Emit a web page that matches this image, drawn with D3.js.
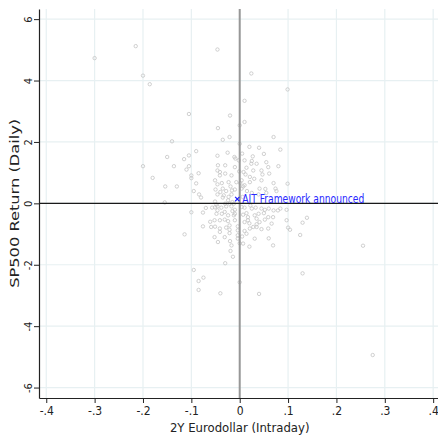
<!DOCTYPE html>
<html>
<head>
<meta charset="utf-8">
<script src="https://cdn.jsdelivr.net/npm/d3@7"></script>
<style>
  body { margin: 0; background: #fff; }
  svg { display: block; }
</style>
</head>
<body>
<div id="chart"></div>
<script>
// 2Y Eurodollar intraday change vs SP500 daily return
const eurodollar = [
  -0.300, -0.215, -0.200, -0.186, -0.105, -0.046, 0.024, 0.099, 0.010, -0.020,
  0.010, 0.000, -0.045, -0.140, -0.035, -0.021, 0.070, 0.000, -0.150, -0.200,
  -0.180, -0.136, -0.115, -0.105, -0.090, -0.105, -0.110, -0.100, -0.100, -0.085,
  -0.090, -0.154, -0.130, -0.095, -0.084, -0.080, -0.155, -0.100, -0.076, -0.070,
  -0.051, -0.046, -0.046, -0.051, -0.046, -0.046, -0.051, -0.046, -0.046, 0.020,
  0.040, 0.050, 0.084, 0.005, 0.027, 0.010, 0.059, 0.080, 0.035, 0.045,
  0.014, 0.021, 0.030, 0.045, 0.070, 0.099, 0.053, 0.074, -0.030, -0.009,
  -0.002, -0.030, -0.017, 0.008, 0.001, 0.010, -0.023, -0.037, -0.016, -0.028,
  0.015, 0.025, 0.039, -0.040, -0.033, -0.023, 0.006, -0.030, -0.012, 0.004,
  0.022, 0.025, 0.060, 0.070, 0.084, 0.039, 0.050, 0.139, -0.012, -0.037,
  -0.025, -0.011, 0.024, 0.055, -0.010, 0.028, 0.061, -0.041, -0.041, -0.001,
  0.012, -0.007, 0.004, 0.021, -0.050, -0.035, -0.019, -0.010, 0.007, 0.041,
  0.055, 0.076, -0.017, -0.024, -0.057, -0.038, -0.028, -0.017, -0.010, 0.010,
  0.033, 0.052, 0.079, 0.097, -0.048, -0.024, -0.010, 0.007, 0.017, 0.031,
  0.059, -0.052, -0.031, -0.010, 0.010, 0.041, 0.052, 0.066, 0.100, 0.104,
  -0.076, -0.059, -0.028, -0.021, -0.004, 0.021, 0.035, 0.059, -0.021, -0.041,
  -0.004, 0.014, -0.114, -0.052, -0.031, -0.004, 0.031, 0.069, -0.017, 0.007,
  -0.045, -0.030, 0.000, -0.040, 0.040, 0.130, 0.255, 0.275, 0.125, 0.130,
  0.060, 0.020, 0.045, 0.035, 0.020, 0.010, 0.005, 0.000, -0.019, -0.014,
  -0.020, -0.024, -0.061, -0.051, -0.095, -0.085, -0.075, -0.085, -0.045, 0.025,
  -0.035, -0.048, -0.021, -0.015, -0.031, -0.015, -0.041, -0.041, -0.021, -0.004,
  0.047, 0.004, 0.014, 0.045, 0.069, 0.035, 0.017, 0.028, 0.097
];
const sp500 = [
  4.73, 5.12, 4.16, 3.88, 2.91, 5.01, 4.23, 3.71, 3.34, 2.86,
  2.65, 2.54, 2.45, 2.02, 2.07, 2.16, 2.16, 1.94, 1.51, 1.21,
  0.83, 1.21, 1.44, 1.56, 1.70, 1.21, 1.10, 0.91, 0.82, 0.98,
  0.65, 0.55, 0.55, 0.40, 0.29, 0.19, 0.03, -0.29, -0.30, -0.15,
  -0.13, 1.55, 1.07, 0.75, 0.62, 0.29, 0.06, -0.10, -0.23, 1.84,
  1.81, 1.61, 1.75, 1.62, 1.53, 1.40, 1.18, 1.21, 1.29, 1.07,
  1.16, 0.86, 0.80, 0.75, 0.66, 0.64, 0.47, 0.48, 1.24, 1.46,
  1.40, 0.97, 0.91, 1.02, 0.66, 0.59, 0.69, 0.66, 0.42, 0.40,
  0.40, 0.34, 0.29, 0.37, 0.26, 0.21, 0.21, -0.01, -0.01, -0.12,
  -0.07, -0.17, -0.17, -0.23, -0.17, -0.34, -0.32, -0.47, -0.39, -0.34,
  1.65, 1.51, 1.29, 1.34, 1.18, 1.07, 0.97, 1.02, 0.91, 1.04,
  0.94, 0.69, 0.75, 0.69, 0.45, 0.48, 0.55, 0.45, 0.55, 0.48,
  0.34, 0.40, 0.29, 0.10, -0.14, -0.14, -0.10, -0.10, -0.21, -0.14,
  -0.14, -0.21, -0.23, -0.21, -0.34, -0.39, -0.34, -0.37, -0.45, -0.39,
  -0.45, -0.55, -0.53, -0.55, -0.61, -0.61, -0.53, -0.66, -0.79, -0.86,
  -0.75, -0.77, -0.79, -0.72, -0.75, -0.82, -0.77, -0.82, -0.97, -0.93,
  -1.04, -0.99, -1.01, -1.10, -1.10, -1.15, -1.15, -1.37, -1.37, -1.31,
  -1.26, -1.95, -2.57, -2.93, -2.95, -2.28, -1.38, -4.94, -1.03, -0.63,
  -1.14, -1.41, -0.84, -0.68, -0.65, -0.90, -1.08, -1.30, -1.55, -1.74,
  -1.23, -0.58, -0.60, -0.76, -2.17, -2.53, -2.42, -2.82, 1.24, 1.38,
  0.19, -0.04, -0.01, 0.04, -0.28, -0.25, -0.55, -0.82, -0.86, -0.88,
  0.94, 0.48, -0.32, -0.17, -0.45, -0.50, -0.55, -0.77, -0.55
];

const eventX = [-0.005];
const eventY = [0.14];
const eventLabel = ['AIT Framework announced'];

const xTicks = [-0.4, -0.3, -0.2, -0.1, 0, 0.1, 0.2, 0.3, 0.4];
const xTickLabels = ['-.4', '-.3', '-.2', '-.1', '0', '.1', '.2', '.3', '.4'];
const yTicks = [-6, -4, -2, 0, 2, 4, 6];
const yTickLabels = ['-6', '-4', '-2', '0', '2', '4', '6'];

const W = 438, H = 436;
const margin = {top: 9, right: 0, bottom: 38, left: 39};
const width = W - margin.left - margin.right;
const height = H - margin.top - margin.bottom;

const x = d3.scaleLinear().domain([-0.415, 0.41]).range([0, width]);
const y = d3.scaleLinear().domain([-6.34, 6.33]).range([height, 0]);

const svg = d3.select('#chart').append('svg')
  .attr('width', W)
  .attr('height', H);

const g = svg.append('g')
  .attr('transform', `translate(${margin.left},${margin.top})`);

const condensed = '"DejaVu Sans Condensed", "DejaVu Sans", sans-serif';

// grid
g.append('g').selectAll('line')
  .data(xTicks)
  .enter().append('line')
    .attr('x1', d => x(d)).attr('x2', d => x(d))
    .attr('y1', 0).attr('y2', height)
    .attr('stroke', '#e7f0f2').attr('stroke-width', 1.2);
g.append('g').selectAll('line')
  .data(yTicks)
  .enter().append('line')
    .attr('x1', 0).attr('x2', width)
    .attr('y1', d => y(d)).attr('y2', d => y(d))
    .attr('stroke', '#e7f0f2').attr('stroke-width', 1.2);

// points
g.append('g').selectAll('circle')
  .data(d3.range(eurodollar.length))
  .enter().append('circle')
    .attr('cx', i => x(eurodollar[i]))
    .attr('cy', i => y(sp500[i]))
    .attr('r', 1.7)
    .attr('fill', 'none')
    .attr('stroke', '#c4c4c4')
    .attr('stroke-width', 0.8);

// reference lines
g.append('line')
  .attr('x1', x(0)).attr('x2', x(0))
  .attr('y1', 0).attr('y2', height)
  .attr('stroke', '#979797').attr('stroke-width', 2);
g.append('line')
  .attr('x1', 0).attr('x2', width)
  .attr('y1', y(0)).attr('y2', y(0))
  .attr('stroke', '#1a1a1a').attr('stroke-width', 1.3);

// event marker
const ev = g.append('g').selectAll('g')
  .data(eventLabel)
  .enter().append('g')
    .attr('transform', (d, i) => `translate(${x(eventX[i])},${y(eventY[i])})`);
ev.append('path')
  .attr('d', d3.symbol().type(d3.symbolX).size(14))
  .attr('stroke', '#1f1fff').attr('stroke-width', 1.2).attr('fill', 'none');
ev.append('text')
  .attr('x', 5)
  .attr('dy', '0.35em')
  .attr('fill', '#2a2aff')
  .attr('textLength', 122)
  .attr('lengthAdjust', 'spacingAndGlyphs')
  .style('font-family', condensed)
  .style('font-size', '11.5px')
  .text(d => d);

// axes
const xAxis = d3.axisBottom(x)
  .tickValues(xTicks)
  .tickFormat((d, i) => xTickLabels[i])
  .tickSize(5)
  .tickSizeOuter(0);
const yAxis = d3.axisLeft(y)
  .tickValues(yTicks)
  .tickFormat((d, i) => yTickLabels[i])
  .tickSize(5)
  .tickSizeOuter(0);

const gx = g.append('g')
  .attr('transform', `translate(0,${height})`)
  .call(xAxis);
gx.select('.domain').attr('stroke', '#222').attr('stroke-width', 1.2);
gx.selectAll('.tick line').attr('stroke', '#222');
gx.selectAll('.tick text')
  .attr('y', 8)
  .attr('fill', '#222')
  .style('font-family', condensed)
  .style('font-size', '12px');

const gy = g.append('g').call(yAxis);
gy.select('.domain').attr('stroke', '#222').attr('stroke-width', 1.2);
gy.selectAll('.tick line').attr('stroke', '#222');
gy.selectAll('.tick text')
  .attr('transform', 'rotate(-90)')
  .attr('x', 0)
  .attr('y', -7)
  .attr('dy', 0)
  .attr('text-anchor', 'middle')
  .attr('fill', '#222')
  .style('font-family', condensed)
  .style('font-size', '11px');

// titles
svg.append('text')
  .attr('x', margin.left + x(0))
  .attr('y', H - 4)
  .attr('text-anchor', 'middle')
  .attr('fill', '#222')
  .style('font-family', condensed)
  .style('font-size', '13px')
  .text('2Y Eurodollar (Intraday)');

svg.append('text')
  .attr('transform', `translate(19,${margin.top + y(0)}) rotate(-90)`)
  .attr('text-anchor', 'middle')
  .attr('fill', '#222')
  .attr('textLength', 169)
  .attr('lengthAdjust', 'spacingAndGlyphs')
  .style('font-family', '"DejaVu Sans", sans-serif')
  .style('font-size', '13px')
  .text('SP500 Return (Daily)');
</script>
</body>
</html>
